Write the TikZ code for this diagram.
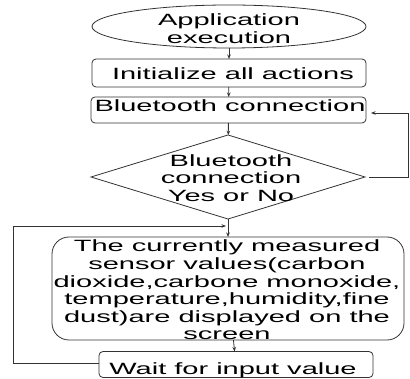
\documentclass[tikz,border=0pt]{standalone}
\usepackage{fontspec}
\setmainfont{Liberation Sans}[FakeStretch=1.78]
\usetikzlibrary{shapes.geometric,arrows.meta}

\begin{document}
\begin{tikzpicture}[x=1pt,y=-1pt,
  every node/.style={inner sep=0pt, outer sep=0pt,
    font=\fontsize{16.3}{17.6}\selectfont, align=center},
  line/.style={draw=black!80, line width=0.8pt},
  flow/.style={line, -{Stealth[length=4.5pt,width=3.5pt]}},
  startbox/.style={line, ellipse, minimum width=274pt, minimum height=43pt},
  stepbox/.style={line, rectangle, rounded corners=4pt, minimum height=26pt},
  testbox/.style={line, diamond, minimum width=274pt, minimum height=84pt},
  showbox/.style={line, rectangle, rounded corners=17pt,
    minimum width=352pt, minimum height=103pt}]

\useasboundingbox (0,0) rectangle (410,379);

% start
\node[startbox] (start) at (229,26.5) {};
\node (starttxt) at (229,28.5) {Application\\execution};

% steps
\node[stepbox, minimum width=274pt, minimum height=28pt] (init) at (229,73) {};
\node[anchor=base] (inittxt) at (233,80) {Initialize all actions};

\node[stepbox, minimum width=275pt] (bt) at (228.5,110) {};
\node[anchor=base] (bttxt) at (230,112) {Bluetooth connection};

% decision
\node[testbox] (test) at (228,177) {};
\node (testtxt) at (231,178) {Bluetooth\\connection\\Yes or No};

% sensor readout
\node[showbox] (show) at (228,288.5) {};
\node (showtxt) at (227,290) {The currently measured\\sensor values(carbon\\dioxide,carbone monoxide,\\temperature,humidity,fine\\dust)are displayed on the\\screen};

% input
\node[stepbox, minimum width=274pt] (wait) at (236,364.5) {};
\node[anchor=base] (waittxt) at (233,375) {Wait for input value};

% loop points
\coordinate (lc) at (13,226);
\coordinate (rc) at (408.5,177);

% main flow
\draw[flow] (start) -- (init);
\draw[flow] (init) -- (bt);
\draw[flow] (bt) -- (test);
\draw[flow] (test) -- (show);
\draw[flow] (show) -- (wait);

% retry loop on the right
\draw[flow, shorten <=4pt, shorten >=5pt] (test.east) -- (rc) |- ([yshift=-3pt]bt.east);

% loop back from input on the left
\draw[flow, shorten >=2pt] ([yshift=1.5pt]wait.west) -| (lc) -- (test.south |- lc);

\end{tikzpicture}
\end{document}
